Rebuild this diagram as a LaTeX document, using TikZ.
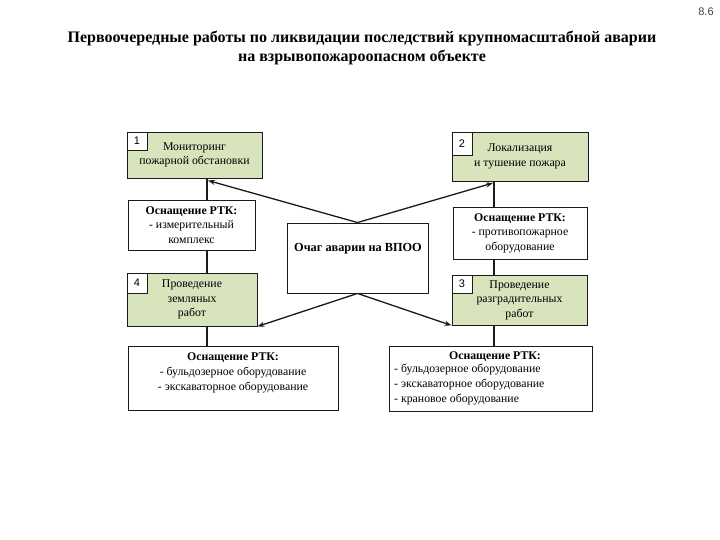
\documentclass[tikz,border=0pt]{standalone}
\usepackage{fontspec}
\setmainfont{Liberation Serif}
\newfontfamily\numfont{Liberation Sans}
\usetikzlibrary{arrows.meta}
\definecolor{boxgreen}{HTML}{D7E4BC}
\definecolor{edge}{HTML}{1A1A1A}
\begin{document}
\begin{tikzpicture}[x=1pt,y=-1pt,
  box/.style={draw=edge, line width=0.9pt, inner sep=0pt, align=center, font=\fontsize{11.8}{14.5}\selectfont},
  gbox/.style={box, fill=boxgreen},
  wbox/.style={box, fill=white},
  numbox/.style={draw=edge, line width=0.8pt, fill=white, inner sep=0pt, anchor=north west, font=\numfont\fontsize{11}{13}\selectfont},
  txt/.style={inner sep=0pt, align=center, font=\fontsize{11.8}{15}\selectfont},
  conn/.style={draw=edge, line width=1.3pt},
  arr/.style={conn, -{Stealth[length=7pt,width=5pt]}},
  ttl/.style={inner sep=0pt, align=center, font=\bfseries\fontsize{16}{19}\selectfont}
]
\useasboundingbox[fill=white] (0,0) rectangle (720,540);

% title
\node[font=\numfont\fontsize{11}{13}\selectfont, text=black!75, inner sep=0pt] (page) at (706,12) {8.6};
\node[ttl] (title) at (362,48) {Первоочередные работы по ликвидации последствий крупномасштабной аварии\\на взрывопожароопасном объекте};

% boxes
\node[gbox, minimum width=135, minimum height=46] (b1) at (194.5,155) {Мониторинг\\пожарной обстановки};
\node[numbox, minimum width=20, minimum height=18] (n1) at (b1.north west) {1};

\node[gbox, minimum width=136, minimum height=49] (b2) at (520,156.5) {Локализация\\и тушение пожара};
\node[numbox, minimum width=20, minimum height=23] (n2) at (b2.north west) {2};

\node[wbox, minimum width=127, minimum height=50] (rl) at (191.5,225) {\textbf{Оснащение РТК:}\\- измерительный\\комплекс};

\node[gbox, minimum width=130, minimum height=53] (b4) at (192,299.5) {Проведение\\земляных\\работ};
\node[numbox, minimum width=20, minimum height=20] (n4) at (b4.north west) {4};

\node[wbox, minimum width=134, minimum height=52] (rr) at (520,233) {\textbf{Оснащение РТК:}\\- противопожарное\\оборудование};

\node[gbox, minimum width=135, minimum height=50] (b3) at (519.5,300) {Проведение\\разградительных\\работ};
\node[numbox, minimum width=20, minimum height=18] (n3) at (b3.north west) {3};

\node[wbox, minimum width=141, minimum height=70] (c) at (357.5,258) {};
\node[txt, font=\bfseries\fontsize{12.3}{14}\selectfont] (ct) at (358,249) {Очаг аварии на ВПОО};

\node[wbox, minimum width=210, minimum height=64] (bl) at (233,378) {};
\node[txt] (blt) at (233,373) {\textbf{Оснащение РТК:}\\- бульдозерное оборудование\\- экскаваторное оборудование};

\node[wbox, minimum width=203, minimum height=65] (br) at (490.5,378.5) {};
\node[txt] (brh) at (495,357) {\textbf{Оснащение РТК:}};
\node[txt, align=left, anchor=north west] (brt) at (394,363.5) {- бульдозерное оборудование\\- экскаваторное оборудование\\- крановое оборудование};

% vertical connectors
\coordinate (lx) at (207,0);
\coordinate (rx) at (494,0);
\draw[conn] (b1.south -| lx) -- (rl.north -| lx);
\draw[conn] (rl.south -| lx) -- (b4.north -| lx);
\draw[conn] (b4.south -| lx) -- (bl.north -| lx);
\draw[conn] (b2.south -| rx) -- (rr.north -| rx);
\draw[conn] (rr.south -| rx) -- (b3.north -| rx);
\draw[conn] (b3.south -| rx) -- (br.north -| rx);

% arrows
\coordinate (t1) at (208,180.5);
\coordinate (t2) at (493,183);
\draw[arr] (c.north) -- (t1);
\draw[arr] (c.north) -- (t2);
\draw[arr] (c.south) -- (b4.south east);
\draw[arr] (c.south) -- (b3.south west);
\end{tikzpicture}
\end{document}
